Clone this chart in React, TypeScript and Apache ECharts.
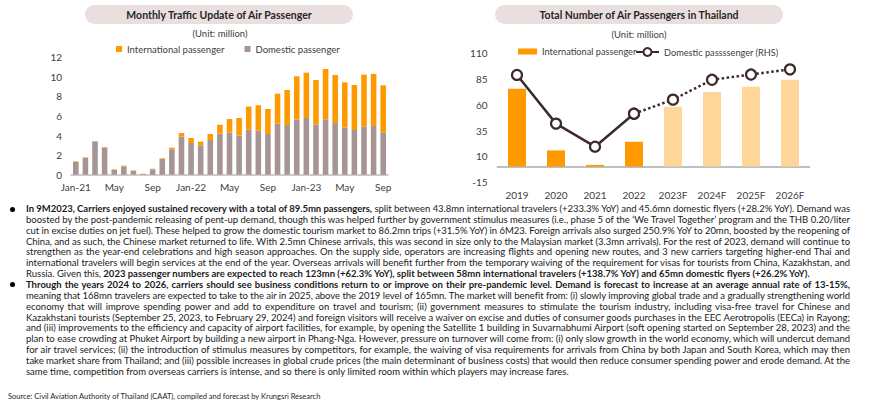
import React, { useEffect, useLayoutEffect, useRef } from 'react';
import * as echarts from 'echarts';

const FONT = 'Lato, "Open Sans", sans-serif';

// ---------- Left chart data (million passengers) ----------
const monthLabels = [
  'Jan-21', 'Feb', 'Mar', 'Apr', 'May', 'Jun', 'Jul', 'Aug', 'Sep', 'Oct', 'Nov', 'Dec',
  'Jan-22', 'Feb', 'Mar', 'Apr', 'May', 'Jun', 'Jul', 'Aug', 'Sep', 'Oct', 'Nov', 'Dec',
  'Jan-23', 'Feb', 'Mar', 'Apr', 'May', 'Jun', 'Jul', 'Aug', 'Sep',
];
const monthlyDomestic = [
  1.3, 1.72, 3.4, 2.78, 0.5, 0.85, 0.38, 0.07, 0.55, 1.6, 2.6, 3.89,
  3.24, 2.97, 3.55, 4.19, 4.3, 3.99, 4.6, 4.5, 4.16, 5.22, 5.08, 5.63,
  5.8, 5.15, 5.66, 5.28, 4.84, 4.57, 4.94, 4.98, 4.33,
];
const monthlyInternational = [
  0.06, 0.05, 0.04, 0.05, 0.05, 0.07, 0.06, 0.03, 0.06, 0.07, 0.16, 0.37,
  0.51, 0.41, 0.61, 0.92, 1.39, 1.81, 2.36, 2.59, 2.56, 3.06, 3.58, 4.43,
  4.63, 4.53, 5.15, 4.91, 4.6, 4.6, 5.29, 5.32, 4.81,
];
const leftTicks = { min: 0, max: 12, interval: 2 };

// ---------- Right chart data (million passengers) ----------
const years = ['2019', '2020', '2021', '2022', '2023F', '2024F', '2025F', '2026F'];
const yearlyInternational = [75.5, 15.7, 1.6, 24.1, 58, 72.3, 77.4, 84.3];
const isForecast = [false, false, false, false, true, true, true, true];
const domesticActual = [89, 41.7, 19.3, 51.3, null, null, null, null];
const domesticForecast = [null, null, null, 51.3, 65, 84.3, 89.4, 94.4];
const rightTicks = { min: -15, max: 110, interval: 25 };

// ---------- Texts ----------
type Seg = [string, boolean];
const para1: Seg[][] = [
  [['In 9M2023, Carriers enjoyed sustained recovery with a total of 89.5mn passengers,', true], [' split between 43.8mn international travelers (+233.3% YoY) and 45.6mn domestic flyers (+28.2% YoY). Demand was', false]],
  [['boosted by the post-pandemic releasing of pent-up demand, though this was helped further by government stimulus measures (i.e., phase 5 of the \u2018We Travel Together\u2019 program and the THB 0.20/liter', false]],
  [['cut in excise duties on jet fuel). These helped to grow the domestic tourism market to 86.2mn trips (+31.5% YoY) in 6M23. Foreign arrivals also surged 250.9% YoY to 20mn, boosted by the reopening of', false]],
  [['China, and as such, the Chinese market returned to life. With 2.5mn Chinese arrivals, this was second in size only to the Malaysian market (3.3mn arrivals). For the rest of 2023, demand will continue to', false]],
  [['strengthen as the year-end celebrations and high season approaches. On the supply side, operators are increasing flights and opening new routes, and 3 new carriers targeting higher-end Thai and', false]],
  [['international travelers will begin services at the end of the year. Overseas arrivals will benefit further from the temporary waiving of the requirement for visas for tourists from China, Kazakhstan, and', false]],
  [['Russia. Given this, ', false], ['2023 passenger numbers are expected to reach 123mn (+62.3% YoY), split between 58mn international travelers (+138.7% YoY) and 65mn domestic flyers (+26.2% YoY).', true]],
];
const para2: Seg[][] = [
  [['Through the years 2024 to 2026, carriers should see business conditions return to or improve on their pre-pandemic level. Demand is forecast to increase at an average annual rate of 13-15%,', true]],
  [['meaning that 168mn travelers are expected to take to the air in 2025, above the 2019 level of 165mn. The market will benefit from: (i) slowly improving global trade and a gradually strengthening world', false]],
  [['economy that will improve spending power and add to expenditure on travel and tourism; (ii) government measures to stimulate the tourism industry, including visa-free travel for Chinese and', false]],
  [['Kazakhstani tourists (September 25, 2023, to February 29, 2024) and foreign visitors will receive a waiver on excise and duties of consumer goods purchases in the EEC Aerotropolis (EECa) in Rayong;', false]],
  [['and (iii) improvements to the efficiency and capacity of airport facilities, for example, by opening the Satellite 1 building in Suvarnabhumi Airport (soft opening started on September 28, 2023) and the', false]],
  [['plan to ease crowding at Phuket Airport by building a new airport in Phang-Nga. However, pressure on turnover will come from: (i) only slow growth in the world economy, which will undercut demand', false]],
  [['for air travel services; (ii) the introduction of stimulus measures by competitors, for example, the waiving of visa requirements for arrivals from China by both Japan and South Korea, which may then', false]],
  [['take market share from Thailand; and (iii) possible increases in global crude prices (the main determinant of business costs) that would then reduce consumer spending power and erode demand. At the', false]],
  [['same time, competition from overseas carriers is intense, and so there is only limited room within which players may increase fares.', false]],
];
const sourceText = 'Source: Civil Aviation Authority of Thailand (CAAT), compiled and forecast by Krungsri Research';

const ORANGE = '#FF9900';
const PEACH = '#FFD699';
const MAUVE = '#A79595';
const BROWN = '#3E2A2A';
const PILL = '#EADFDF';

const TEXT_LEFT = 26;
const TEXT_WIDTH = 824;
const LINE0 = 209;
const LINE_STEP = 10.85;

export default function App() {
  const chartRef = useRef<HTMLDivElement>(null);
  const spanRefs = useRef<(HTMLSpanElement | null)[]>([]);

  const allLines: { segs: Seg[]; justify: boolean; bullet: boolean }[] = [];
  para1.forEach((l, i) => allLines.push({ segs: l, justify: i < para1.length - 1, bullet: i === 0 }));
  para2.forEach((l, i) => allLines.push({ segs: l, justify: i < para2.length - 1, bullet: i === 0 }));

  useLayoutEffect(() => {
    const justify = () => {
      spanRefs.current.forEach((el, i) => {
        if (!el) return;
        el.style.wordSpacing = '0px';
        el.style.letterSpacing = '0px';
        if (!allLines[i].justify) return;
        const w = el.getBoundingClientRect().width;
        const text = el.textContent || '';
        const spaces = text.split(' ').length - 1;
        let extra = TEXT_WIDTH - w;
        if (extra < 0) {
          el.style.letterSpacing = (extra / text.length) + 'px';
          extra = TEXT_WIDTH - el.getBoundingClientRect().width;
        }
        if (spaces > 0) el.style.wordSpacing = extra / spaces + 'px';
      });
    };
    justify();
    if ((document as any).fonts && (document as any).fonts.ready) {
      (document as any).fonts.ready.then(justify);
    }
  }, []);

  useEffect(() => {
    const chart = echarts.init(chartRef.current!, null, { renderer: 'svg' });
    const axisLabelStyle = { fontSize: 10, color: '#404040', fontFamily: FONT };
    chart.setOption({
      animation: false,
      textStyle: { fontFamily: FONT },
      graphic: [
        { type: 'rect', shape: { x: 85, y: 5, width: 268, height: 19, r: 9.5 }, style: { fill: PILL } },
        { type: 'text', x: 219, y: 14.5, style: { text: 'Monthly Traffic Update of Air Passenger', align: 'center', verticalAlign: 'middle', font: `bold 10.5px ${FONT}`, fill: '#262626' } },
        { type: 'text', x: 220, y: 33, style: { text: '(Unit: million)', align: 'center', verticalAlign: 'middle', font: `9.5px ${FONT}`, fill: '#404040' } },
        { type: 'rect', shape: { x: 495, y: 5, width: 288, height: 19, r: 9.5 }, style: { fill: PILL } },
        { type: 'text', x: 639, y: 14.5, style: { text: 'Total Number of Air Passengers in Thailand', align: 'center', verticalAlign: 'middle', font: `bold 10.5px ${FONT}`, fill: '#262626' } },
        { type: 'text', x: 639, y: 34, style: { text: '(Unit: million)', align: 'center', verticalAlign: 'middle', font: `9.5px ${FONT}`, fill: '#404040' } },
      ],
      legend: [
        {
          data: ['International passenger', 'Domestic passenger'],
          left: 116, top: 44, padding: 0, itemWidth: 6, itemHeight: 6, itemGap: 20, icon: 'rect',
          selectedMode: false, textStyle: { fontSize: 9.5, color: '#404040', fontFamily: FONT },
        },
        {
          data: ['International passenger'],
          left: 518, top: 47, padding: 0, itemWidth: 19, itemHeight: 6, icon: 'rect',
          selectedMode: false, textStyle: { fontSize: 9.2, color: '#404040', fontFamily: FONT },
        },
        {
          data: ['Domestic passssenger (RHS)'],
          left: 635, top: 47, padding: 0, itemWidth: 23, itemHeight: 10,
          selectedMode: false, textStyle: { fontSize: 9.2, color: '#404040', fontFamily: FONT },
        },
      ],
      grid: [
        { left: 71, top: 57.3, width: 317, height: 117.4 },
        { left: 497.5, top: 53.3, width: 312, height: 139.4 },
      ],
      xAxis: [
        {
          type: 'category', gridIndex: 0, data: monthLabels,
          axisTick: { show: false },
          axisLine: { lineStyle: { color: '#BFBFBF', width: 1.5 } },
          axisLabel: { ...axisLabelStyle, interval: 3, margin: 7 },
        },
        {
          type: 'category', gridIndex: 1, data: years,
          axisTick: { show: false },
          axisLine: { onZero: true, lineStyle: { color: '#BFBFBF', width: 2 } },
          axisLabel: { ...axisLabelStyle, margin: 8 },
        },
      ],
      yAxis: [
        {
          type: 'value', gridIndex: 0, ...leftTicks,
          splitLine: { show: false }, axisLine: { show: false }, axisTick: { show: false },
          axisLabel: { ...axisLabelStyle, margin: 9 },
        },
        {
          type: 'value', gridIndex: 1, ...rightTicks,
          splitLine: { show: false }, axisLine: { show: false }, axisTick: { show: false },
          axisLabel: { ...axisLabelStyle, margin: 10 },
        },
        {
          type: 'value', gridIndex: 1, ...rightTicks, show: false, position: 'right',
          splitLine: { show: false },
        },
      ],
      series: [
        {
          name: 'Domestic passenger', type: 'bar', xAxisIndex: 0, yAxisIndex: 0, stack: 'm',
          data: monthlyDomestic, barWidth: '58%', itemStyle: { color: MAUVE },
        },
        {
          name: 'International passenger', type: 'bar', xAxisIndex: 0, yAxisIndex: 0, stack: 'm',
          data: monthlyInternational, barWidth: '58%', itemStyle: { color: ORANGE },
        },
        {
          name: 'International passenger', type: 'bar', xAxisIndex: 1, yAxisIndex: 1,
          barWidth: 18, itemStyle: { color: ORANGE },
          data: yearlyInternational.map((v, i) => ({ value: v, itemStyle: { color: isForecast[i] ? PEACH : ORANGE } })),
        },
        {
          name: 'Domestic passssenger (RHS)', type: 'line', xAxisIndex: 1, yAxisIndex: 2,
          data: domesticActual, symbol: 'circle', symbolSize: 10, z: 5,
          lineStyle: { color: BROWN, width: 2.5 },
          itemStyle: { color: '#ffffff', borderColor: BROWN, borderWidth: 2.2 },
        },
        {
          name: 'domestic-forecast', type: 'line', xAxisIndex: 1, yAxisIndex: 2,
          data: domesticForecast, symbol: 'circle', symbolSize: 10, z: 5,
          lineStyle: { color: BROWN, width: 2.5, type: 'dotted' },
          itemStyle: { color: '#ffffff', borderColor: BROWN, borderWidth: 2.2 },
        },
      ],
    });
    return () => chart.dispose();
  }, []);

  return (
    <div style={{ position: 'absolute', left: 0, top: 0, width: 870, height: 412, overflow: 'hidden', background: '#fff', fontFamily: FONT, color: '#1a1a1a' }}>
      <div ref={chartRef} style={{ position: 'absolute', left: 0, top: 0, width: 870, height: 200 }} />
      {allLines.map((line, i) => (
        <div key={i} style={{ position: 'absolute', left: TEXT_LEFT, top: LINE0 - 6 + i * LINE_STEP, width: TEXT_WIDTH + 40, height: 12, lineHeight: '12px', whiteSpace: 'nowrap', fontSize: 9.5 }}>
          {line.bullet && (
            <div style={{ position: 'absolute', left: -16, top: 3.5, width: 5, height: 5, borderRadius: '50%', background: '#000' }} />
          )}
          <span ref={(el) => { spanRefs.current[i] = el; }}>
            {line.segs.map((s, j) => (
              <span key={j} style={{ fontWeight: s[1] ? 700 : 400 }}>{s[0]}</span>
            ))}
          </span>
        </div>
      ))}
      <div style={{ position: 'absolute', left: 8, top: 392, whiteSpace: 'nowrap', fontSize: 7.5, lineHeight: '10px', color: '#262626' }}>{sourceText}</div>
    </div>
  );
}
